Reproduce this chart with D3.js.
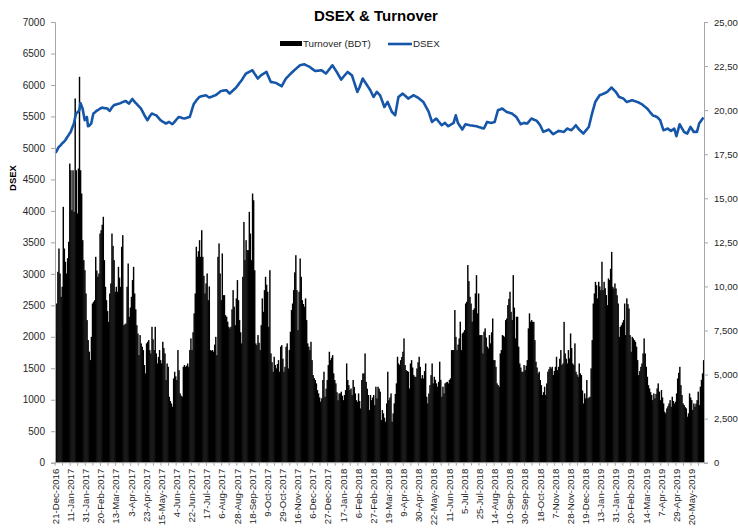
<!DOCTYPE html>
<html>
<head>
<meta charset="utf-8">
<script src="https://cdn.jsdelivr.net/npm/d3@7"></script>
<style>
  body { margin: 0; background: #fff; }
  svg { display: block; font-family: "Liberation Sans", Arial, sans-serif; }
</style>
</head>
<body>
<div id="chart"></div>
<script>
// daily turnover, BDT mn (right axis)
var turnover = [
7430,9030,10830,12150,10735,9410,9980,14515,12150,11400,10735,11600,12530,16970,16590,14325,16590,14230,20660,16590,
14140,16690,21890,16590,15270,12625,11490,10920,9600,8090,6955,6300,5820,7140,9030,9130,9220,11680,10900,10550,
10735,13000,13190,13500,13950,11490,9980,9220,8600,7990,9600,10170,13000,12300,11490,9700,9980,9700,11110,10500,
9980,12250,12910,7800,7850,7900,9980,11300,8280,8800,9410,10360,11110,9600,8700,7800,7330,6100,7240,6770,
6580,6390,5540,5065,6770,6860,6955,6390,6200,7710,7000,6390,7710,6200,5630,6000,6390,5820,5630,6860,
6500,6200,4690,5630,5440,3740,3500,3360,3175,4780,5160,4900,4690,6390,5250,3930,3800,3740,5440,5540,
5440,5500,5630,5440,6390,7050,6390,7400,8470,9600,12250,11680,12000,12625,11680,13190,11680,10600,9600,10170,
10735,9220,10000,6390,6350,6390,6295,6700,7140,6100,11680,12440,10735,9220,11870,9505,9505,8370,8280,8000,
7710,7620,7710,8700,9790,8850,7800,9320,10360,9220,8090,7400,6770,10545,13660,11490,12625,12060,12060,14230,
13000,11490,15270,14890,10920,6770,6670,7240,6800,6390,7800,9320,8560,9790,10545,10100,9700,7710,10920,6200,
5700,5160,6010,5540,5350,5600,5820,5160,6580,6670,5900,5160,5440,6580,6770,5350,6400,7430,8660,9030,
9790,10800,11770,9790,7520,9700,11585,10545,9220,9000,8850,9320,8090,6770,6580,6390,6860,5820,4970,4800,
4690,4500,4120,3930,3700,3460,3650,4690,5160,3740,4200,4690,5540,6295,5820,5950,6100,5065,4690,4500,
4000,3550,3930,3930,4030,3800,3550,3840,4120,5630,4690,4400,4120,4210,3840,4690,4300,3930,3550,3460,
3930,3500,3080,4690,5065,5065,6200,4590,4200,3840,2990,3840,3550,3700,3840,3270,4310,3650,4310,4200,
4030,2420,2990,2800,2550,2325,3365,5160,3550,3700,3930,2325,2800,3365,3900,4500,6010,5630,5540,5820,
6000,6295,7050,5540,5250,5200,5160,4210,5630,5820,5400,4970,4875,4875,5350,5700,6010,5440,4780,4970,
4780,5200,5630,3740,3365,3930,4400,4970,5630,4500,4875,4700,4500,4310,4590,5730,4700,3740,4310,3930,
4500,4550,4590,4500,4690,4780,6390,6390,6390,8660,7140,6390,6700,7050,8000,6390,7330,7400,7520,9030,
9130,11210,10300,9410,9030,8000,8660,8750,9600,10640,8470,9600,7240,7240,7240,6200,7430,7620,7100,6580,
6480,7240,6770,7400,8180,5820,5820,5440,4500,4400,4310,6200,6390,7240,7200,7140,8090,8180,8940,9300,
9700,8560,8090,10640,8800,7050,8280,8280,6580,5630,5400,5160,5160,5540,5250,5500,5820,7620,8470,8000,
8090,7990,7990,6955,5730,5400,5065,5160,4690,4400,3840,4000,4310,3840,4500,5160,5300,5440,5350,5440,
4970,5200,5440,6010,5250,5440,5900,6390,5540,5630,7990,6200,5900,5630,6390,5920,7330,6500,5630,5540,
6770,5160,5000,4875,5630,5065,4970,4100,3360,3930,3650,4690,3650,3700,3740,5350,6955,9030,9600,10260,
10070,9320,10260,10000,9790,11400,9790,10260,9900,9510,8940,10450,10360,11000,11960,9980,9885,10170,9885,9500,
9030,7140,7710,7800,7950,8090,9030,7240,9320,9000,8750,7240,6295,7140,7050,6955,6860,6580,5820,4970,
5200,5440,5630,6200,7050,6200,5440,4875,4400,4210,4000,3840,3550,3930,3650,3900,4210,4500,4030,3550,
4120,3700,3360,2890,2800,3080,3200,3360,3550,3175,3740,3500,3360,3460,3930,4780,5100,5440,4400,3840,
3360,3270,3150,3080,2610,2800,3930,3700,3550,2990,3360,3175,3350,3550,4030,3270,4310,4700,5065,5820
];

// daily DSEX close (left axis)
var dsex = [
4921,4950,4985,5016,5030,5048,5070,5085,5102,5122,5150,5178,5202,5230,5254,5300,5345,5387,5470,5546,
5560,5580,5598,5714,5670,5625,5530,5440,5470,5492,5344,5350,5370,5387,5470,5546,5560,5575,5590,5598,
5610,5622,5630,5641,5636,5632,5630,5628,5625,5605,5587,5610,5640,5660,5678,5684,5690,5695,5700,5705,
5712,5720,5728,5735,5740,5746,5730,5715,5705,5730,5755,5778,5756,5735,5714,5700,5680,5662,5645,5625,
5590,5560,5525,5495,5467,5440,5470,5500,5525,5546,5540,5532,5525,5519,5500,5480,5460,5440,5430,5418,
5408,5398,5387,5396,5405,5413,5400,5388,5376,5395,5415,5435,5455,5475,5492,5487,5482,5476,5471,5467,
5472,5477,5482,5487,5492,5540,5600,5655,5705,5725,5750,5772,5792,5810,5815,5820,5825,5830,5834,5837,
5825,5812,5800,5806,5812,5818,5825,5831,5837,5850,5864,5878,5892,5905,5907,5910,5912,5914,5916,5898,
5880,5863,5880,5895,5912,5928,5944,5959,5982,6005,6030,6052,6075,6100,6128,6155,6181,6190,6198,6207,
6216,6225,6233,6207,6180,6155,6128,6102,6120,6137,6154,6165,6175,6186,6196,6206,6166,6127,6088,6048,
6045,6042,6038,6035,6032,6020,6010,6000,5990,5979,6010,6040,6072,6102,6120,6137,6155,6172,6190,6206,
6222,6237,6252,6268,6283,6298,6313,6317,6321,6325,6329,6320,6312,6303,6295,6286,6273,6260,6248,6235,
6222,6224,6226,6228,6230,6232,6233,6220,6207,6194,6181,6203,6225,6247,6269,6291,6313,6286,6259,6232,
6206,6176,6146,6116,6086,6106,6126,6146,6166,6186,6206,6193,6180,6167,6154,6100,6048,5995,5942,5889,
5924,5959,6007,6055,6102,6075,6048,6022,5996,5969,5943,5916,5880,5845,5810,5836,5862,5889,5872,5854,
5837,5790,5744,5697,5651,5677,5704,5730,5690,5650,5611,5571,5554,5536,5519,5616,5713,5810,5823,5836,
5850,5863,5847,5831,5816,5800,5784,5795,5805,5816,5826,5837,5828,5818,5809,5800,5786,5772,5758,5744,
5730,5698,5666,5635,5603,5571,5518,5466,5413,5427,5440,5454,5467,5446,5424,5403,5381,5360,5372,5385,
5397,5379,5362,5344,5355,5365,5376,5386,5397,5458,5519,5458,5397,5371,5344,5318,5292,5320,5348,5376,
5372,5368,5364,5360,5357,5355,5352,5349,5347,5344,5339,5334,5329,5323,5318,5313,5308,5343,5378,5413,
5409,5405,5401,5397,5402,5408,5413,5475,5536,5598,5605,5611,5618,5625,5612,5598,5585,5571,5566,5561,
5556,5551,5546,5532,5519,5505,5492,5463,5434,5405,5376,5383,5390,5397,5394,5390,5387,5407,5427,5447,
5467,5459,5452,5444,5437,5429,5406,5383,5360,5325,5289,5254,5262,5269,5277,5284,5292,5273,5255,5236,
5217,5228,5238,5249,5259,5270,5267,5264,5260,5257,5254,5272,5290,5308,5301,5294,5288,5281,5301,5320,
5340,5360,5337,5315,5292,5276,5260,5244,5228,5249,5270,5291,5312,5333,5404,5475,5546,5607,5669,5730,
5757,5784,5810,5837,5844,5850,5857,5863,5872,5880,5889,5907,5924,5942,5959,5942,5924,5907,5889,5863,
5836,5810,5804,5797,5791,5784,5766,5748,5730,5735,5741,5746,5752,5757,5752,5746,5741,5735,5730,5721,
5712,5703,5694,5680,5666,5653,5639,5625,5604,5583,5561,5540,5519,5512,5506,5499,5492,5475,5457,5440,
5387,5334,5281,5288,5294,5301,5308,5295,5283,5270,5283,5295,5308,5247,5186,5249,5313,5376,5346,5315,
5285,5254,5245,5237,5228,5263,5298,5333,5307,5280,5254,5254,5254,5254,5320,5387,5411,5435,5459,5483
];

// category labels, one every 14 trading days
var xLabels = ["21-Dec-2016","11-Jan-2017","31-Jan-2017","20-Feb-2017","13-Mar-2017","3-Apr-2017","23-Apr-2017",
  "15-May-2017","4-Jun-2017","22-Jun-2017","17-Jul-2017","6-Aug-2017","28-Aug-2017","18-Sep-2017","9-Oct-2017",
  "29-Oct-2017","16-Nov-2017","6-Dec-2017","27-Dec-2017","17-Jan-2018","6-Feb-2018","27-Feb-2018","19-Mar-2018",
  "9-Apr-2018","30-Apr-2018","22-May-2018","11-Jun-2018","5-Jul-2018","25-Jul-2018","14-Aug-2018","10-Sep-2018",
  "30-Sep-2018","18-Oct-2018","7-Nov-2018","28-Nov-2018","19-Dec-2018","13-Jan-2019","31-Jan-2019","20-Feb-2019",
  "14-Mar-2019","7-Apr-2019","29-Apr-2019","20-May-2019"];
var labelStep = 14;

var leftTicks = d3.range(0, 7001, 500);
var rightTicks = d3.range(0, 25001, 2500);

var W = 738, H = 530;
var plotLeft = 55, plotRight = 704, plotTop = 22, plotBottom = 462.7;

var svg = d3.select("#chart").append("svg")
	.attr("width", W)
	.attr("height", H);

var x = d3.scaleBand()
	.domain(d3.range(turnover.length))
	.range([plotLeft, plotRight]);

var yL = d3.scaleLinear().domain([0, 7000]).range([plotBottom, plotTop]);
var yR = d3.scaleLinear().domain([0, 25000]).range([plotBottom, plotTop]);

// bars, slightly overlapping so they read as one black mass like the original
svg.append("g")
	.selectAll("rect")
	.data(turnover)
	.enter().append("rect")
	.attr("x", function(d, i) { return x(i); })
	.attr("width", x.bandwidth() + 0.35)
	.attr("y", function(d) { return yR(d); })
	.attr("height", function(d) { return plotBottom - yR(d); })
	.attr("fill", "#000");

// DSEX line
var line = d3.line()
	.x(function(d, i) { return x(i) + x.bandwidth() / 2; })
	.y(function(d) { return yL(d); });

svg.append("path")
	.datum(dsex)
	.attr("d", line)
	.attr("fill", "none")
	.attr("stroke", "#1656a8")
	.attr("stroke-width", 2.6)
	.attr("stroke-linejoin", "round");

// left axis
var axL = svg.append("g")
	.attr("transform", "translate(" + plotLeft + ",0)")
	.call(d3.axisLeft(yL).tickValues(leftTicks).tickSize(4).tickPadding(6).tickFormat(d3.format("d")));
axL.select(".domain").attr("stroke", "#a6a6a6");
axL.selectAll(".tick line").attr("stroke", "#a6a6a6");
axL.selectAll("text").attr("fill", "#262626").style("font-size", "10px");

// right axis (five-digit labels run off the page edge, as in the original)
var axR = svg.append("g")
	.attr("transform", "translate(" + plotRight + ",0)")
	.call(d3.axisRight(yR).tickValues(rightTicks).tickSize(4).tickPadding(6).tickFormat(d3.format(",")));
axR.select(".domain").attr("stroke", "#a6a6a6");
axR.selectAll(".tick line").attr("stroke", "#a6a6a6");
axR.selectAll("text").attr("fill", "#262626").style("font-size", "9.5px");

// x axis
svg.append("line")
	.attr("x1", plotLeft).attr("x2", plotRight)
	.attr("y1", plotBottom).attr("y2", plotBottom)
	.attr("stroke", "#a6a6a6");

svg.append("g")
	.selectAll("line")
	.data(d3.range(0, turnover.length + 1, 7))
	.enter().append("line")
	.attr("x1", function(d) { return plotLeft + d * x.step(); })
	.attr("x2", function(d) { return plotLeft + d * x.step(); })
	.attr("y1", plotBottom)
	.attr("y2", plotBottom + 3)
	.attr("stroke", "#a6a6a6");

svg.append("g")
	.selectAll("text")
	.data(xLabels)
	.enter().append("text")
	.attr("transform", function(d, i) {
		var cx = x(i * labelStep) + x.bandwidth() / 2;
		return "translate(" + cx + "," + (plotBottom + 6) + ") rotate(-90)";
	})
	.attr("text-anchor", "end")
	.attr("dy", "0.35em")
	.attr("fill", "#262626")
	.style("font-size", "9.6px")
	.text(function(d) { return d; });

// titles
svg.append("text")
	.attr("x", 376).attr("y", 21)
	.attr("text-anchor", "middle")
	.style("font-size", "15px")
	.style("font-weight", "bold")
	.text("DSEX & Turnover");

svg.append("text")
	.attr("transform", "translate(16,178) rotate(-90)")
	.attr("text-anchor", "middle")
	.style("font-size", "9.5px")
	.style("font-weight", "bold")
	.text("DSEX");

// legend
var lg = svg.append("g").attr("transform", "translate(280,44)");
lg.append("rect").attr("x", 0).attr("y", -3).attr("width", 22).attr("height", 5).attr("fill", "#000");
lg.append("text").attr("x", 23).attr("y", 0).attr("dy", "0.35em")
	.style("font-size", "9.8px").attr("fill", "#262626").text("Turnover (BDT)");
lg.append("line").attr("x1", 108).attr("x2", 132).attr("y1", 0).attr("y2", 0)
	.attr("stroke", "#1656a8").attr("stroke-width", 2.6);
lg.append("text").attr("x", 133).attr("y", 0).attr("dy", "0.35em")
	.style("font-size", "9.8px").attr("fill", "#262626").text("DSEX");
</script>
</body>
</html>
